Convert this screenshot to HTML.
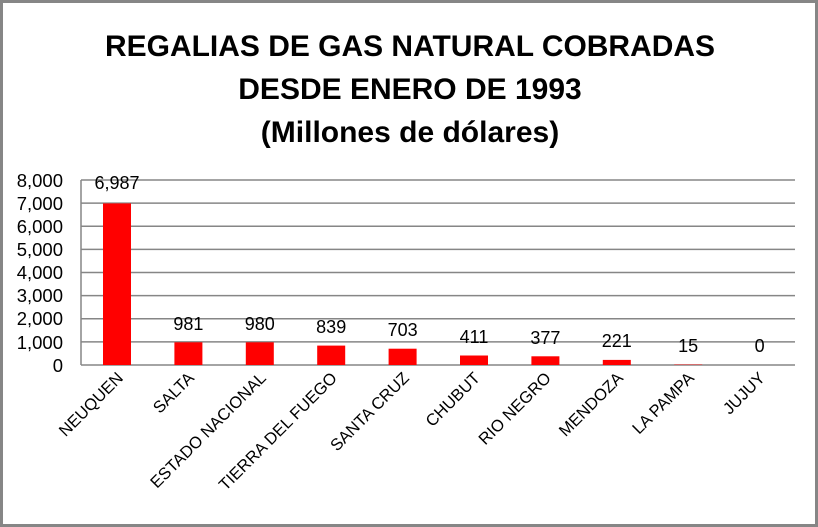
<!DOCTYPE html>
<html><head><meta charset="utf-8"><style>
body{margin:0;background:#fff}
svg{display:block;font-family:"Liberation Sans",Arial,sans-serif}
</style></head><body>
<svg width="818" height="527" viewBox="0 0 818 527">
<rect x="1.5" y="1.5" width="815" height="524" fill="#fff" stroke="#868686" stroke-width="3"/>
<g font-weight="bold" font-size="30" text-anchor="middle" fill="#000">
<text x="410" y="56" textLength="610" lengthAdjust="spacingAndGlyphs">REGALIAS DE GAS NATURAL COBRADAS</text>
<text x="410" y="99">DESDE ENERO DE 1993</text>
<text x="410" y="142">(Millones de dólares)</text>
</g>
<g stroke="#868686" stroke-width="1.5">
<line x1="81" y1="180" x2="795" y2="180"/>
<line x1="81" y1="203.1" x2="795" y2="203.1"/>
<line x1="81" y1="226.3" x2="795" y2="226.3"/>
<line x1="81" y1="249.4" x2="795" y2="249.4"/>
<line x1="81" y1="272.5" x2="795" y2="272.5"/>
<line x1="81" y1="295.6" x2="795" y2="295.6"/>
<line x1="81" y1="318.8" x2="795" y2="318.8"/>
<line x1="81" y1="341.9" x2="795" y2="341.9"/>
<line x1="81" y1="365" x2="795" y2="365"/>
<line x1="81" y1="180" x2="81" y2="365"/>
</g>
<g font-size="18.5" text-anchor="end" fill="#000">
<text x="63" y="187">8,000</text>
<text x="63" y="210">7,000</text>
<text x="63" y="233">6,000</text>
<text x="63" y="256">5,000</text>
<text x="63" y="279">4,000</text>
<text x="63" y="302">3,000</text>
<text x="63" y="325">2,000</text>
<text x="63" y="349">1,000</text>
<text x="63" y="372">0</text>
</g>
<g fill="#ff0000">
<rect x="103" y="203.4" width="28" height="161.6"/>
<rect x="174.4" y="342.3" width="28" height="22.7"/>
<rect x="245.8" y="342.3" width="28" height="22.7"/>
<rect x="317.2" y="345.6" width="28" height="19.4"/>
<rect x="388.6" y="348.7" width="28" height="16.3"/>
<rect x="460" y="355.5" width="28" height="9.5"/>
<rect x="531.4" y="356.3" width="28" height="8.7"/>
<rect x="602.8" y="359.9" width="28" height="5.1"/>
<rect x="674.2" y="364.6" width="28" height="0.4"/>
</g>
<g font-size="18" text-anchor="middle" fill="#000">
<text x="117" y="189">6,987</text>
<text x="188.4" y="330">981</text>
<text x="259.8" y="330">980</text>
<text x="331.2" y="333">839</text>
<text x="402.6" y="336">703</text>
<text x="474" y="343">411</text>
<text x="545.4" y="344">377</text>
<text x="616.8" y="347">221</text>
<text x="688.2" y="352">15</text>
<text x="759.6" y="352">0</text>
</g>
<g font-size="16.5" text-anchor="end" fill="#000">
<text transform="translate(124,379) rotate(-45)">NEUQUEN</text>
<text transform="translate(195,379) rotate(-45)">SALTA</text>
<text transform="translate(267,379) rotate(-45)">ESTADO NACIONAL</text>
<text transform="translate(338,379) rotate(-45)">TIERRA DEL FUEGO</text>
<text transform="translate(410,379) rotate(-45)">SANTA CRUZ</text>
<text transform="translate(481,379) rotate(-45)">CHUBUT</text>
<text transform="translate(552,379) rotate(-45)">RIO NEGRO</text>
<text transform="translate(624,379) rotate(-45)">MENDOZA</text>
<text transform="translate(695,379) rotate(-45)">LA PAMPA</text>
<text transform="translate(766,379) rotate(-45)">JUJUY</text>
</g>
</svg>
</body></html>
